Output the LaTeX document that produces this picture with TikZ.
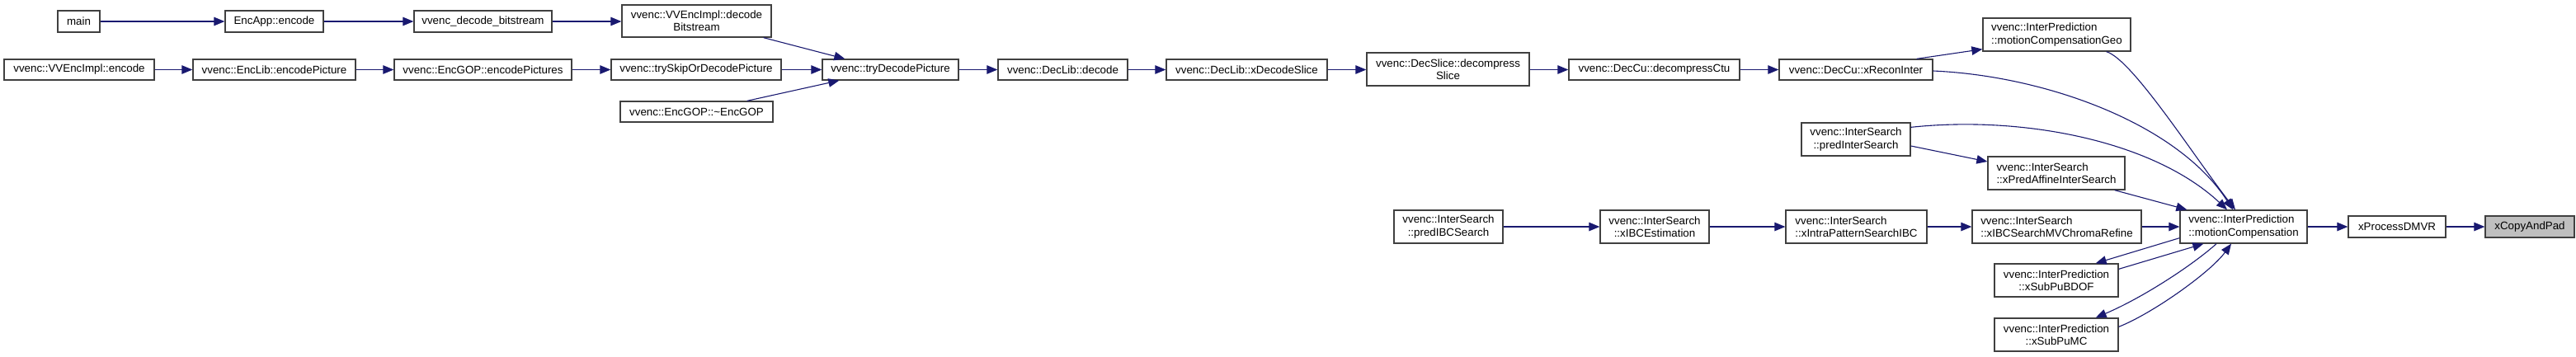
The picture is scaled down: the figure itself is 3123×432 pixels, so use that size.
\documentclass[tikz,border=0pt]{standalone}
\usepackage{fontspec}
\setmainfont{Liberation Sans}
\usetikzlibrary{arrows.meta}
\definecolor{edgecol}{HTML}{191970}
\definecolor{boxcol}{HTML}{404040}
\definecolor{selcol}{HTML}{BFBFBF}
\tikzset{
  box/.style={draw=boxcol, line width=1.3pt, fill=white, rectangle, inner sep=0pt,
    font=\fontsize{13.33}{15.3}\selectfont, align=center},
  lbox/.style={box, align=left},
  edge/.style={draw=edgecol, line width=1.1pt,
    -{Triangle[length=13pt,width=10.5pt]}, color=edgecol},
}
\begin{document}
\begin{tikzpicture}[x=1pt,y=-1pt]
\useasboundingbox (0,0) rectangle (3123,432);
% nodes
\node[box, minimum width=51pt, minimum height=26pt] (main) at (95.5,26) {main};
\node[box, minimum width=119pt, minimum height=26pt] (encapp) at (332.5,26) {EncApp::encode};
\node[box, minimum width=167pt, minimum height=26pt] (decbs) at (585.5,26) {vvenc\_decode\_bitstream};
\node[box, minimum width=181pt, minimum height=39pt] (decbit) at (844.5,25.5) {vvenc::VVEncImpl::decode\\Bitstream};
\node[box, minimum width=182pt, minimum height=25pt] (vvencenc) at (96,84.5) {vvenc::VVEncImpl::encode};
\node[box, minimum width=197pt, minimum height=25pt] (enclib) at (332.5,84.5) {vvenc::EncLib::encodePicture};
\node[box, minimum width=215pt, minimum height=25pt] (encgop) at (585.5,84.5) {vvenc::EncGOP::encodePictures};
\node[box, minimum width=206pt, minimum height=25pt] (tryskip) at (844,84.5) {vvenc::trySkipOrDecodePicture};
\node[box, minimum width=185pt, minimum height=25pt] (dtor) at (844.5,135.5) {vvenc::EncGOP::\textasciitilde EncGOP};
\node[box, minimum width=165pt, minimum height=25pt] (trydec) at (1079.5,84.5) {vvenc::tryDecodePicture};
\node[box, minimum width=157pt, minimum height=25pt] (decode) at (1288.5,84.5) {vvenc::DecLib::decode};
\node[box, minimum width=195pt, minimum height=25pt] (xdecslice) at (1511.5,84.5) {vvenc::DecLib::xDecodeSlice};
\node[box, minimum width=197pt, minimum height=40pt] (decslice) at (1755.5,84) {vvenc::DecSlice::decompress\\Slice};
\node[box, minimum width=207pt, minimum height=25pt] (decctu) at (2005.5,84.5) {vvenc::DecCu::decompressCtu};
\node[box, minimum width=186pt, minimum height=25pt] (xrecon) at (2250,84.5) {vvenc::DecCu::xReconInter};
\node[lbox, minimum width=179pt, minimum height=40pt] (mcgeo) at (2493.5,42) {vvenc::InterPrediction\\::motionCompensationGeo};
\node[box, minimum width=132pt, minimum height=40pt] (predinter) at (2250,169) {vvenc::InterSearch\\::predInterSearch};
\node[lbox, minimum width=166pt, minimum height=40pt] (xpredaff) at (2493,210) {vvenc::InterSearch\\::xPredAffineInterSearch};
\node[box, minimum width=132pt, minimum height=40pt] (predibc) at (1756,275) {vvenc::InterSearch\\::predIBCSearch};
\node[box, minimum width=132pt, minimum height=40pt] (xibcest) at (2006,275) {vvenc::InterSearch\\::xIBCEstimation};
\node[lbox, minimum width=171pt, minimum height=40pt] (xintra) at (2250.5,275) {vvenc::InterSearch\\::xIntraPatternSearchIBC};
\node[lbox, minimum width=205pt, minimum height=40pt] (xibcsearch) at (2493.5,275) {vvenc::InterSearch\\::xIBCSearchMVChromaRefine};
\node[lbox, minimum width=154pt, minimum height=40pt] (mc) at (2720,275) {vvenc::InterPrediction\\::motionCompensation};
\node[box, minimum width=150pt, minimum height=40pt] (xsubbdof) at (2493,340) {vvenc::InterPrediction\\::xSubPuBDOF};
\node[box, minimum width=150pt, minimum height=40pt] (xsubmc) at (2493,406) {vvenc::InterPrediction\\::xSubPuMC};
\node[box, minimum width=118pt, minimum height=26pt] (dmvr) at (2906,275) {xProcessDMVR};
\node[box, fill=selcol, minimum width=108pt, minimum height=26pt] (xcopy) at (3067,275) {xCopyAndPad};
% edges
\draw[edge] (main) -- (encapp);
\draw[edge] (encapp) -- (decbs);
\draw[edge] (decbs.east) -- (decbit.west |- decbs.east);
\draw[edge] (vvencenc) -- (enclib);
\draw[edge] (enclib) -- (encgop);
\draw[edge] (encgop) -- (tryskip);
\draw[edge] (tryskip) -- (trydec);
\draw[edge] ([xshift=-10pt]decbit.south east) -- ([xshift=28pt]trydec.north west);
\draw[edge] ([xshift=-32pt]dtor.north east) -- ([xshift=21pt]trydec.south west);
\draw[edge] (trydec) -- (decode);
\draw[edge] (decode) -- (xdecslice);
\draw[edge] (xdecslice.east) -- (decslice.west |- xdecslice.east);
\draw[edge] (decslice.east |- decctu.west) -- (decctu.west);
\draw[edge] (decctu) -- (xrecon);
\draw[edge] ([xshift=-20pt]xrecon.north east) -- ([yshift=3pt]mcgeo.south west);
\draw[edge] ([yshift=-1.5pt]xrecon.east) .. controls (2480,92) and (2640,150) .. ([xshift=-13pt]mc.north);
\draw[edge] ([xshift=-30pt]mcgeo.south east) .. controls (2585,72) and (2660,190) .. ([xshift=-10pt]mc.north);
\draw[edge] ([yshift=-6pt]predinter.north east) .. controls (2450,140) and (2610,170) .. ([xshift=-20pt]mc.north);
\draw[edge] ([yshift=-8pt]predinter.east) -- ([yshift=14pt]xpredaff.west);
\draw[edge] ([xshift=-13pt]xpredaff.south east) -- ([xshift=9pt]mc.north west);
\draw[edge] (predibc) -- (xibcest);
\draw[edge] (xibcest) -- (xintra);
\draw[edge] (xintra) -- (xibcsearch);
\draw[edge] (xibcsearch) -- (mc);
\draw[edge] (mc.east |- dmvr.west) -- (dmvr.west);
\draw[edge] (dmvr) -- (xcopy);
\draw[edge] ([yshift=7pt]mc.south west) -- ([xshift=-28pt]xsubbdof.north east);
\draw[edge] ([yshift=-7pt]xsubbdof.north east) -- ([xshift=29pt]mc.south west);
\draw[edge] ([xshift=-33pt]mc.south) .. controls (2660,320) and (2600,360) .. ([xshift=-28pt]xsubmc.north east);
\draw[edge] ([yshift=-11pt]xsubmc.north east) .. controls (2610,380) and (2680,330) .. ([xshift=-15pt]mc.south);
\end{tikzpicture}
\end{document}
